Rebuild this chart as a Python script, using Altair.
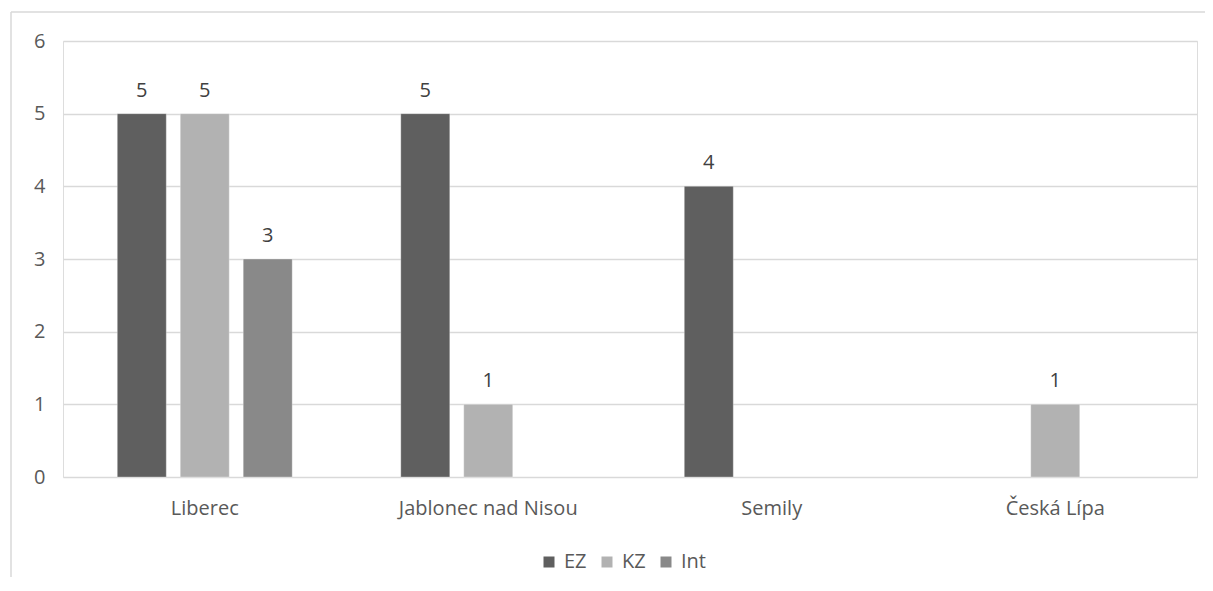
import altair as alt
import pandas as pd

categories = ["Liberec", "Jablonec nad Nisou", "Semily", "Česká Lípa"]
series = ["EZ", "KZ", "Int"]
ez = [5, 5, 4, None]
kz = [5, 1, None, 1]
intv = [3, None, None, None]
colors = ["#5f5f5f", "#b2b2b2", "#898989"]
y_ticks = [0, 1, 2, 3, 4, 5, 6]

rows = []
for i, c in enumerate(categories):
    for s, vals in zip(series, [ez, kz, intv]):
        if vals[i] is not None:
            rows.append({"cat": c, "series": s, "value": vals[i]})
df = pd.DataFrame(rows)

FONT = "Open Sans"
TXT = "#595959"
FS = 20

x = alt.X("cat:N", sort=categories, title=None,
          scale=alt.Scale(paddingInner=0.383, paddingOuter=0.1915),
          axis=alt.Axis(labelAngle=0, ticks=False, domain=False, labelPadding=21,
                        labelFontSize=FS, labelColor=TXT, labelFont=FONT))
xo = alt.XOffset("series:N", sort=series,
                 scale=alt.Scale(domain=series, paddingInner=0.222, paddingOuter=0))
y = alt.Y("value:Q", title=None,
          scale=alt.Scale(domain=[0, 6], nice=False),
          axis=alt.Axis(values=y_ticks, format="d", ticks=False, domain=False, labelPadding=18,
                        gridColor="#d9d9d9", gridWidth=1.5,
                        labelFontSize=FS, labelColor=TXT, labelFont=FONT))

bars = alt.Chart(df).mark_bar(stroke="#ffffff", strokeOpacity=0.3, strokeWidth=1).encode(
    x=x, xOffset=xo, y=y,
    color=alt.Color("series:N", sort=series,
                    scale=alt.Scale(domain=series, range=colors),
                    legend=alt.Legend(title=None, orient="none", direction="horizontal",
                                      legendX=476, legendY=511,
                                      symbolType="square", symbolSize=121,
                                      symbolStrokeWidth=0, labelFontSize=FS,
                                      labelColor=TXT, labelFont=FONT,
                                      labelOffset=5, columnPadding=10)),
)

labels = alt.Chart(df).mark_text(baseline="alphabetic", dy=-17, fontSize=FS,
                                 font=FONT, color="#404040").encode(
    x=alt.X("cat:N", sort=categories), xOffset=alt.XOffset("series:N", sort=series),
    y="value:Q", text="value:Q")

border = pd.DataFrame({"a": [0]})
frame_left = alt.Chart(border).mark_rule(stroke="#d9d9d9", strokeWidth=1.5).encode(
    x=alt.value(-52), y=alt.value(-29), y2=alt.value(700))
frame_top = alt.Chart(border).mark_rule(stroke="#d9d9d9", strokeWidth=1.5).encode(
    x=alt.value(-52), x2=alt.value(1300), y=alt.value(-29))

chart = alt.layer(frame_left, frame_top, bars, labels).properties(
    width=1134, height=436,
    autosize=alt.AutoSizeParams(type="none"),
    padding={"left": 55, "top": 33, "right": 8, "bottom": 100},
).configure_view(stroke=None).configure(background="white")

chart.save("out.html", embed_options={"renderer": "svg", "actions": False})
